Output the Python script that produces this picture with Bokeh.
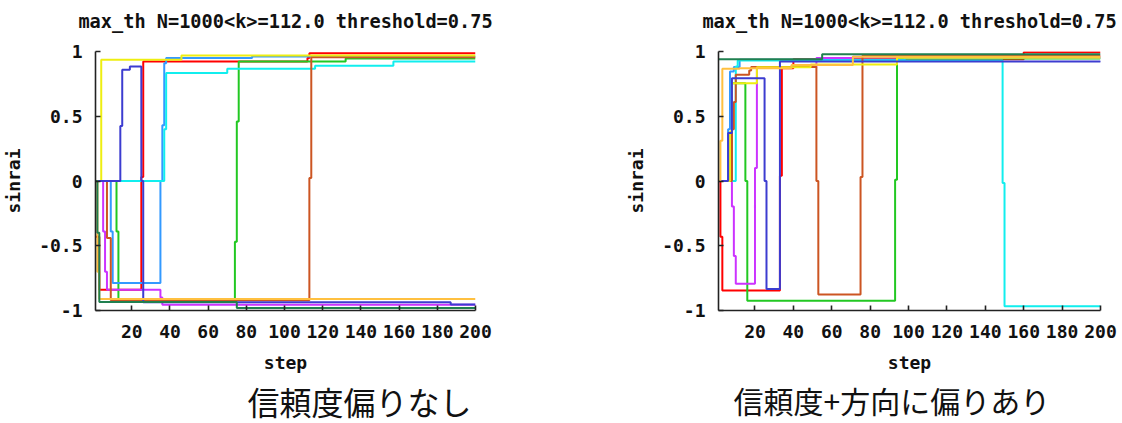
from bokeh.plotting import figure
from bokeh.models import Range1d, FixedTicker, CustomJSTickFormatter, Title
from bokeh.layouts import row
from bokeh.embed import file_html
from bokeh.resources import INLINE

# ---------------- texts / ticks ----------------
TITLE = "max_th N=1000<k>=112.0 threshold=0.75"
X_LABEL = "step"
Y_LABEL = "sinrai"
X_TICKS = [20, 40, 60, 80, 100, 120, 140, 160, 180, 200]
Y_TICKS = [-1, -0.5, 0, 0.5, 1]
CAPTION_LEFT = "信頼度偏りなし"
CAPTION_RIGHT = "信頼度+方向に偏りあり"

# ---------------- colours (gnuplot-like) ----------------
C_RED = "#ff0000"
C_GREEN = "#22c822"
C_DODGER = "#3399ff"
C_MAGENTA = "#cc33ff"
C_CYAN = "#11eeee"
C_SIENNA = "#cc5522"
C_YELLOW = "#eeee11"
C_SLATE = "#3c3cd0"
C_ORANGE = "#ffc040"
C_DKGREEN = "#208050"

# ---------------- left chart data (step change points) ----------------
L_red_x = [1, 3, 25, 26, 112, 113, 200]
L_red_y = [-0.43, -0.84, 0.03, 0.923, 0.95, 0.987, 0.987]
L_green_x = [1, 12, 13, 74, 75, 76, 132, 200]
L_green_y = [0, -0.39, -0.93, -0.47, 0.46, 0.923, 0.945, 0.945]
L_dodger_x = [1, 9, 10, 35, 36, 37, 38, 83, 200]
L_dodger_y = [0, -0.39, -0.788, 0.0, 0.43, 0.91, 0.949, 0.962, 0.962]
L_magenta_x = [1, 5, 6, 7, 35, 36, 200]
L_magenta_y = [0, -0.39, -0.7, -0.84, -0.9, -0.955, -0.955]
L_cyan_x = [1, 37, 38, 70, 116, 157, 200]
L_cyan_y = [0, 0.4, 0.834, 0.867, 0.89, 0.923, 0.923]
L_sienna_x = [1, 7, 9, 113, 114, 200]
L_sienna_y = [0, -0.44, -0.92, 0.024, 0.955, 0.955]
L_yellow_x = [1, 4, 46, 200]
L_yellow_y = [0, 0.936, 0.97, 0.97]
L_slate_x = [1, 14, 15, 19, 25, 26, 187, 200]
L_slate_y = [0, 0.425, 0.859, 0.885, 0.0, -0.936, -0.954, -0.954]
L_orange_x = [1, 2, 3, 200]
L_orange_y = [0, -0.7, -0.911, -0.911]
L_dkgreen_x = [1, 2, 3, 75, 200]
L_dkgreen_y = [0, -0.4, -0.934, -0.98, -0.98]

# ---------------- right chart data (step change points) ----------------
R_red_x = [1, 2, 3, 33, 34, 40, 160, 200]
R_red_y = [0, -0.43, -0.846, 0.04, 0.87, 0.94, 0.995, 0.995]
R_green_x = [1, 8, 15, 16, 93, 94, 200]
R_green_y = [0, 0.755, 0.0, -0.924, 0.01, 0.945, 0.945]
R_dodger_x = [1, 6, 7, 9, 12, 98, 200]
R_dodger_y = [0, 0.4, 0.846, 0.88, 0.936, 0.95, 0.95]
R_magenta_x = [1, 8, 9, 10, 20, 21, 52, 71, 200]
R_magenta_y = [0, -0.196, -0.58, -0.793, 0.1, 0.88, 0.95, 0.96, 0.96]
R_cyan_x = [1, 10, 11, 149, 150, 200]
R_cyan_y = [0, 0.884, 0.93, -0.016, -0.967, -0.967]
R_sienna_x = [1, 8, 9, 10, 17, 18, 52, 53, 75, 76, 200]
R_sienna_y = [0, 0.4, 0.61, 0.82, 0.853, 0.88, 0.0, -0.877, 0.03, 0.968, 0.968]
R_yellow_x = [1, 7, 8, 21, 49, 94, 200]
R_yellow_y = [0, 0.38, 0.755, 0.879, 0.9, 0.952, 0.952]
R_slate_x = [1, 6, 8, 25, 26, 33, 200]
R_slate_y = [0, 0.37, 0.794, 0.0, -0.834, 0.923, 0.928]
R_orange_x = [1, 2, 3, 12, 39, 71, 200]
R_orange_y = [0, 0.31, 0.866, 0.87, 0.895, 0.96, 0.96]
R_dkgreen_x = [1, 55, 200]
R_dkgreen_y = [0.941, 0.979, 0.979]

LEFT_SERIES = [
    (L_red_x, L_red_y, C_RED), (L_green_x, L_green_y, C_GREEN),
    (L_dodger_x, L_dodger_y, C_DODGER), (L_magenta_x, L_magenta_y, C_MAGENTA),
    (L_cyan_x, L_cyan_y, C_CYAN), (L_sienna_x, L_sienna_y, C_SIENNA),
    (L_yellow_x, L_yellow_y, C_YELLOW), (L_slate_x, L_slate_y, C_SLATE),
    (L_orange_x, L_orange_y, C_ORANGE), (L_dkgreen_x, L_dkgreen_y, C_DKGREEN),
]
RIGHT_SERIES = [
    (R_red_x, R_red_y, C_RED), (R_green_x, R_green_y, C_GREEN),
    (R_dodger_x, R_dodger_y, C_DODGER), (R_magenta_x, R_magenta_y, C_MAGENTA),
    (R_cyan_x, R_cyan_y, C_CYAN), (R_sienna_x, R_sienna_y, C_SIENNA),
    (R_yellow_x, R_yellow_y, C_YELLOW), (R_slate_x, R_slate_y, C_SLATE),
    (R_orange_x, R_orange_y, C_ORANGE), (R_dkgreen_x, R_dkgreen_y, C_DKGREEN),
]

MONO = "DejaVu Sans Mono"


def make_chart(series, caption, b_left, b_right, cap_offset, cap_size):
    p = figure(width=561, height=423, output_backend="svg", toolbar_location=None,
               x_range=Range1d(1, 200), y_range=Range1d(-1, 1),
               min_border_left=b_left, min_border_right=b_right,
               min_border_top=51, min_border_bottom=112)
    p.outline_line_color = None
    p.xgrid.visible = False
    p.ygrid.visible = False
    p.background_fill_color = "white"
    p.border_fill_color = "white"

    for xs, ys, col in series:
        p.step(xs, ys, mode="after", line_color=col, line_width=2)

    p.xaxis.ticker = FixedTicker(ticks=X_TICKS)
    p.yaxis.ticker = FixedTicker(ticks=Y_TICKS)
    p.yaxis.formatter = CustomJSTickFormatter(code="return tick.toString();")
    for ax in (p.xaxis[0], p.yaxis[0]):
        ax.major_tick_in = 5
        ax.major_tick_out = 0
        ax.minor_tick_in = 0
        ax.minor_tick_out = 0
        ax.axis_line_color = "#222222"
        ax.axis_line_width = 1.6
        ax.major_tick_line_color = "#222222"
        ax.major_tick_line_width = 1.6
        ax.major_label_text_font = MONO
        ax.major_label_text_font_style = "bold"
        ax.major_label_text_font_size = "18px"
        ax.major_label_text_color = "#111111"
        ax.axis_label_text_font = MONO
        ax.axis_label_text_font_style = "bold"
        ax.axis_label_text_font_size = "18px"
        ax.axis_label_text_color = "#111111"
    p.xaxis.axis_label = X_LABEL
    p.yaxis.axis_label = Y_LABEL
    p.xaxis.major_label_standoff = 14
    p.yaxis.major_label_standoff = 13
    p.xaxis.axis_label_standoff = 11
    p.yaxis.axis_label_standoff = 12

    # spacer between the frame and the title
    p.add_layout(Title(text=" ", text_font_size="10px", standoff=2), "above")

    p.title.text = TITLE
    p.title.align = "center"
    p.title.text_font = MONO
    p.title.text_font_style = "bold"
    p.title.text_font_size = "18.6px"
    p.title.text_color = "#111111"
    p.title.standoff = 10

    cap = Title(text=caption, align="left", offset=cap_offset,
                text_font="Noto Sans CJK JP", text_font_style="normal",
                text_font_size=cap_size, text_color="#111111",
                text_line_height=0.68, standoff=0)
    p.add_layout(cap, "below")
    return p


left = make_chart(LEFT_SERIES, CAPTION_LEFT, 95, 86, 152, "32px")
right = make_chart(RIGHT_SERIES, CAPTION_RIGHT, 157, 22, 15, "30px")

layout = row(left, right)
open("out.html", "w").write(file_html(layout, INLINE))
